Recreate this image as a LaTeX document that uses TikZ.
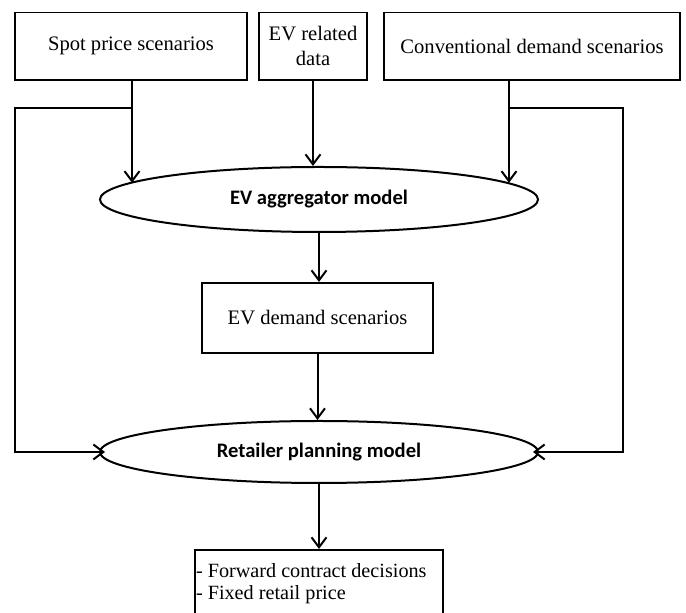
\documentclass[tikz,border=0pt]{standalone}
\usepackage{fontspec}
\setmainfont{Liberation Serif}
\newfontfamily\calibri{Carlito}
\usetikzlibrary{shapes.geometric,arrows.meta}

\begin{document}
\begin{tikzpicture}[x=0.5pt, y=-0.5pt, line width=1pt, >={Straight Barb[length=5pt,width=7.5pt]},
    data box/.style={rectangle,draw,inner sep=0pt,align=center,font=\fontsize{10.3}{12.5}\selectfont},
    model node/.style={ellipse,draw,inner sep=0pt,minimum width=219pt,font=\calibri\bfseries\fontsize{10.3}{12}\selectfont}]

    \useasboundingbox (0,0) rectangle (686,613);
    \clip (0,13) rectangle (686,613);

    % inputs (cut at the top)
    \node[data box, minimum width=116pt, minimum height=34pt] at (131, 46) (spot) {Spot price scenarios};
    \node[data box, minimum width=54pt, minimum height=34pt] at (313, 46) (evdata) {EV related\\data};
    \node[data box, minimum width=148pt, minimum height=34pt] at (532, 46) (conv) {Conventional demand scenarios};

    % models
    \node[model node, minimum height=32.5pt] at (319, 199.5) (agg) {EV aggregator model};
    \node[data box, minimum width=115.5pt, minimum height=35pt] at (317.5, 318) (evdem) {EV demand scenarios};
    \node[model node, minimum height=31pt] at (319, 452) (ret) {Retailer planning model};

    % output (cut at the bottom)
    \node[data box, anchor=north, text width=123pt, align=flush left, inner xsep=0.5pt, inner ysep=6.5pt,
          font=\fontsize{10.1}{11}\selectfont] at (319, 549) (out) {- Forward contract decisions\\- Fixed retail price\\ \strut};

    \coordinate (spotj) at (132, 108);
    \coordinate (convj) at (509, 108);
    \coordinate (leftc) at (15, 108);
    \coordinate (rightc) at (623, 108);

    \draw[->] (spot.south -| spotj) -- (spotj |- agg.175);
    \draw[->] (evdata.south) -- (evdata.south |- agg.north);
    \draw[->] (conv.south -| convj) -- (convj |- agg.5);
    \draw[->, shorten >=-3pt] (spotj) -- (leftc) |- (ret.west);
    \draw[->, shorten >=-3pt] (convj) -- (rightc) |- (ret.east);

    \draw[->] (agg.south) -- (agg.south |- evdem.north);
    \draw[->] (evdem.south) -- (evdem.south |- ret.north);
    \draw[->] (ret.south) -- (ret.south |- out.north);

\end{tikzpicture}
\end{document}
